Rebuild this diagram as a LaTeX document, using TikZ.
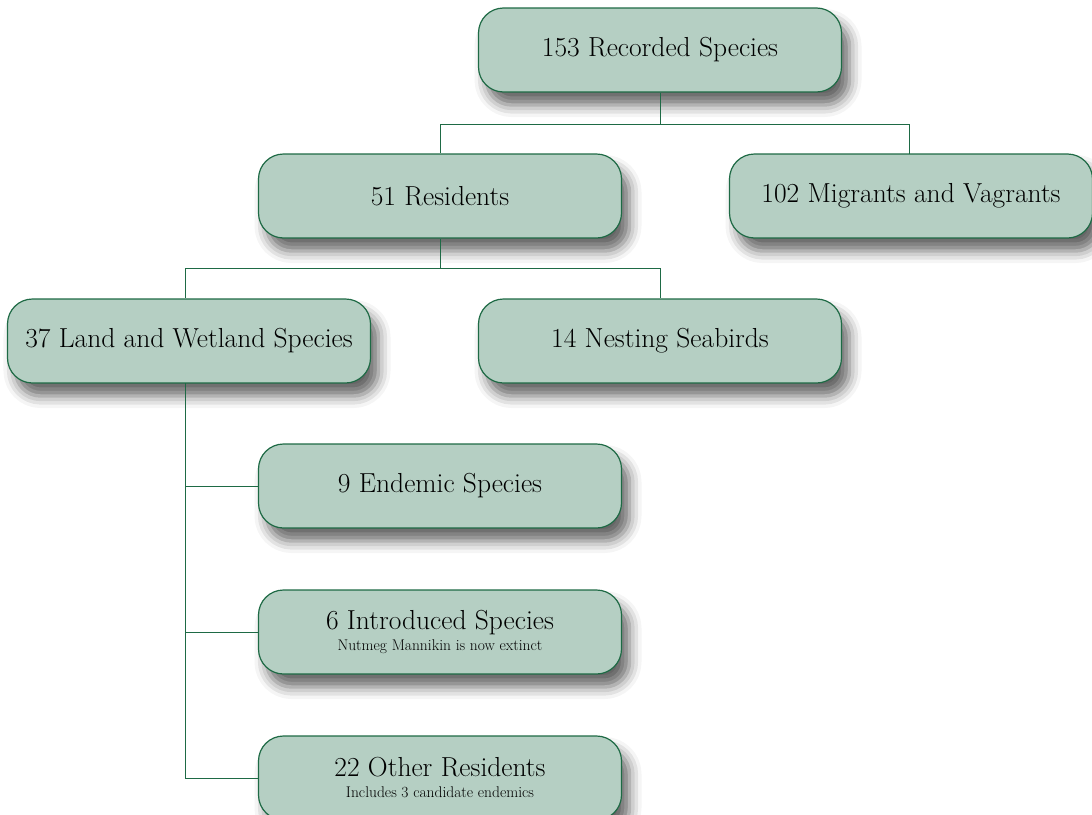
\documentclass[tikz,border=0pt]{standalone}
\usetikzlibrary{shadows.blur}
\definecolor{boxfill}{HTML}{B5CFC3}
\definecolor{boxline}{HTML}{1E6A45}
\begin{document}
\begin{tikzpicture}[x=1pt, y=-1pt,
    every node/.style={font=\fontsize{27.5}{30}\selectfont},
    n/.style={rectangle, rounded corners=25pt, draw=boxline, line width=1.2pt,
      fill=boxfill, minimum width=363pt, minimum height=84pt, inner sep=0pt,
      align=center, blur shadow={shadow xshift=8pt, shadow yshift=-13pt,
      shadow blur radius=12pt, shadow opacity=60}},
    link/.style={draw=boxline, line width=0.9pt}]
    \useasboundingbox (0,0) rectangle (1092,814);

    \node[n] (rec) at (660, 50) {153 Recorded Species};
    \node[n] (res) at (440, 196) {51 Residents};
    \node[n] (mig) at (911, 196) {102 Migrants and Vagrants};
    \node[n] (land) at (189, 341) {37 Land and Wetland Species};
    \node[n] (sea) at (660, 341) {14 Nesting Seabirds};
    \node[n] (end) at (440, 486) {9 Endemic Species};
    \node[n] (intro) at (440, 632) {6 Introduced Species\\[-9pt]{\fontsize{15.5}{17}\selectfont Nutmeg Mannikin is now extinct}};
    \node[n] (oth) at (440, 778) {22 Other Residents\\[-9pt]{\fontsize{15.5}{17}\selectfont Includes 3 candidate endemics}};

    \coordinate (j1) at (660, 124);
    \coordinate (j2) at (440, 268);
    \coordinate (j3) at (185, 383);

    \draw[link] (rec) -- (j1) -| (res.north);
    \draw[link] (j1) -| (909, 154);
    \draw[link] (res) -- (j2) -| (j3 |- land.north);
    \draw[link] (j2) -| (sea.north);
    \draw[link] (j3) |- (end.west);
    \draw[link] (j3) |- (intro.west);
    \draw[link] (j3) |- (oth.west);
\end{tikzpicture}
\end{document}
